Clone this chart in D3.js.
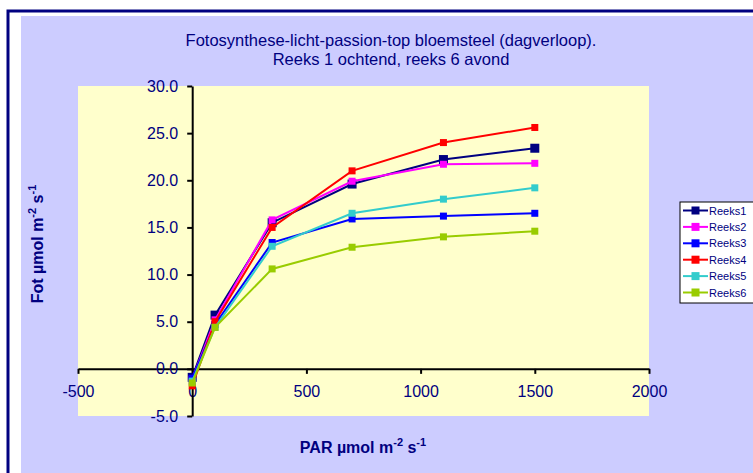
<!DOCTYPE html>
<html>
<head>
<meta charset="utf-8">
<script src="https://cdn.jsdelivr.net/npm/d3@7"></script>
<style>
  body { margin: 0; background: #fff; }
  svg { display: block; font-family: Arial, "Liberation Sans", sans-serif; }
</style>
</head>
<body>
<svg id="chart" width="753" height="473"></svg>
<script>
// PAR values (x) and the six series (Fot)
var parValues = [0, 100, 350, 700, 1100, 1500];
var reeks1 = [-0.9, 5.7, 15.5, 19.6, 22.2, 23.4];
var reeks2 = [-1.1, 5.2, 15.8, 19.9, 21.7, 21.8];
var reeks3 = [-1.0, 4.7, 13.4, 15.9, 16.2, 16.5];
var reeks4 = [-1.8, 5.0, 15.0, 21.0, 24.0, 25.6];
var reeks5 = [-1.3, 4.4, 13.0, 16.5, 18.0, 19.2];
var reeks6 = [-1.5, 4.4, 10.6, 12.9, 14.0, 14.6];

var seriesNames = ["Reeks1", "Reeks2", "Reeks3", "Reeks4", "Reeks5", "Reeks6"];
var seriesColors = ["#000080", "#FF00FF", "#0000FF", "#FF0000", "#33CCCC", "#99CC00"];
var xTicks = [-500, 0, 500, 1000, 1500, 2000];
var yTicks = [-5, 0, 5, 10, 15, 20, 25, 30];

var allSeries = [reeks1, reeks2, reeks3, reeks4, reeks5, reeks6].map(function(vals, i) {
    return {
        name: seriesNames[i],
        color: seriesColors[i],
        points: vals.map(function(v, j) { return { x: parValues[j], y: v }; })
    };
});

var navy = "#000080";
var svg = d3.select("#chart");

// outer frame and chart background
svg.append("rect").attr("x", 8).attr("y", 11).attr("width", 760).attr("height", 480)
    .attr("fill", "#fff").attr("stroke", navy).attr("stroke-width", 3);
svg.append("rect").attr("x", 21).attr("y", 16).attr("width", 740).attr("height", 470)
    .attr("fill", "#CCCCFF");

var plot = { left: 78, top: 86, right: 649, bottom: 416 };

var xScale = d3.scaleLinear().domain([-500, 2000]).range([plot.left, plot.right]);
var yScale = d3.scaleLinear().domain([-5, 30]).range([plot.bottom, plot.top]);

svg.append("rect")
    .attr("x", plot.left).attr("y", plot.top)
    .attr("width", plot.right - plot.left).attr("height", plot.bottom - plot.top)
    .attr("fill", "#FFFFCC");

// title
var title = svg.append("text").attr("text-anchor", "middle").attr("fill", navy)
    .style("font-size", "16.5px");
title.append("tspan").attr("x", 391).attr("y", 46)
    .text("Fotosynthese-licht-passion-top bloemsteel (dagverloop).");
title.append("tspan").attr("x", 391).attr("y", 65)
    .text("Reeks 1 ochtend, reeks 6 avond");

// plain hyphen for negatives, like the original
function hyphen(f) {
    return function(d) { return f(d).replace("\u2212", "-"); };
}

// axes
var xAxis = d3.axisBottom(xScale).tickValues(xTicks).tickSize(5).tickSizeOuter(0)
    .tickFormat(hyphen(d3.format("d")));
var gx = svg.append("g").attr("transform", "translate(0," + yScale(0) + ")").call(xAxis);
gx.select(".domain").attr("stroke", "#000").attr("stroke-width", 2);
gx.selectAll(".tick line").attr("stroke", "#000").attr("stroke-width", 2);
gx.selectAll(".tick text").attr("fill", navy).attr("y", 17)
    .style("font-size", "16px").style("font-family", "Arial, 'Liberation Sans', sans-serif");

var yAxis = d3.axisLeft(yScale).tickValues(yTicks).tickSize(5).tickSizeOuter(0)
    .tickFormat(hyphen(d3.format(".1f")));
var gy = svg.append("g").attr("transform", "translate(" + xScale(0) + ",0)").call(yAxis);
gy.select(".domain").attr("stroke", "#000").attr("stroke-width", 2);
gy.selectAll(".tick line").attr("stroke", "#000").attr("stroke-width", 2);
gy.selectAll(".tick text").attr("fill", navy).attr("x", -14)
    .style("font-size", "16px").style("font-family", "Arial, 'Liberation Sans', sans-serif");

// axis titles
var xt = svg.append("text").attr("x", 363).attr("y", 453).attr("text-anchor", "middle")
    .attr("fill", navy).style("font-size", "16px").style("font-weight", "bold");
xt.append("tspan").text("PAR µmol m");
xt.append("tspan").attr("dy", -7).style("font-size", "11px").text("-2");
xt.append("tspan").attr("dy", 7).text(" s");
xt.append("tspan").attr("dy", -7).style("font-size", "11px").text("-1");

var yt = svg.append("text").attr("transform", "translate(43,244) rotate(-90)")
    .attr("text-anchor", "middle")
    .attr("fill", navy).style("font-size", "16px").style("font-weight", "bold");
yt.append("tspan").text("Fot µmol m");
yt.append("tspan").attr("dy", -7).style("font-size", "11px").text("-2");
yt.append("tspan").attr("dy", 7).text(" s");
yt.append("tspan").attr("dy", -7).style("font-size", "11px").text("-1");

// lines and markers
var line = d3.line()
    .x(function(d) { return xScale(d.x); })
    .y(function(d) { return yScale(d.y); });

allSeries.forEach(function(s, i) {
    var g = svg.append("g");
    g.append("path").datum(s.points).attr("d", line)
        .attr("fill", "none").attr("stroke", s.color).attr("stroke-width", 2);
    var size = i === 0 ? 9 : 7;
    g.selectAll("rect").data(s.points).enter().append("rect")
        .attr("x", function(d) { return xScale(d.x) - size / 2; })
        .attr("y", function(d) { return yScale(d.y) - size / 2; })
        .attr("width", size).attr("height", size)
        .attr("fill", s.color);
});

// legend
var legend = svg.append("g").attr("transform", "translate(680,202)");
legend.append("rect").attr("x", 0).attr("y", 0).attr("width", 90).attr("height", 101)
    .attr("fill", "#fff").attr("stroke", "#000").attr("stroke-width", 1);
allSeries.forEach(function(s, i) {
    var yy = 8.5 + i * 16.4;
    legend.append("line").attr("x1", 3).attr("x2", 28).attr("y1", yy).attr("y2", yy)
        .attr("stroke", s.color).attr("stroke-width", 2);
    legend.append("rect").attr("x", 11.5).attr("y", yy - 4).attr("width", 8).attr("height", 8)
        .attr("fill", s.color);
    legend.append("text").attr("x", 29).attr("y", yy + 4).attr("fill", navy)
        .style("font-size", "11px").text(s.name);
});
</script>
</body>
</html>
